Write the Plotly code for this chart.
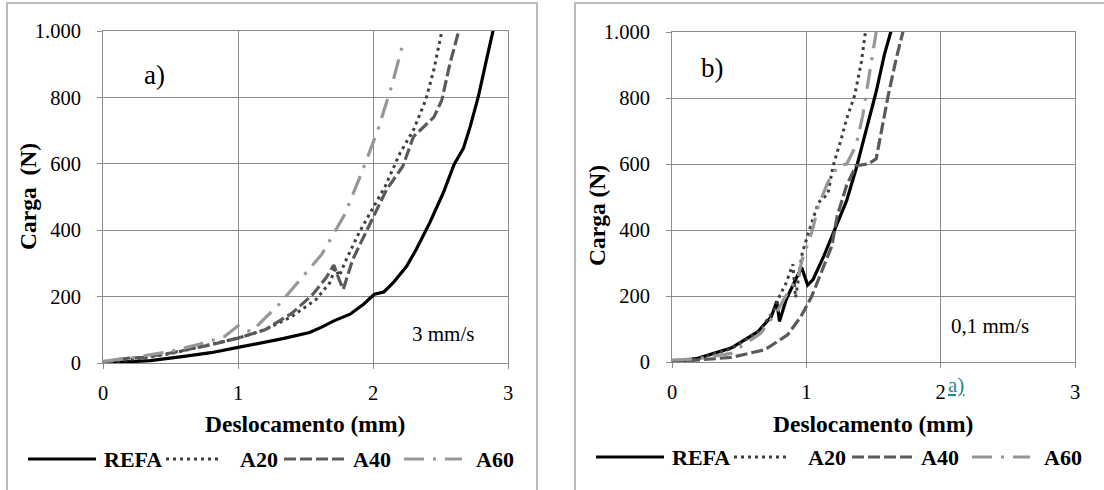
import plotly.graph_objects as go

# ---------------- data ----------------
# panel a) 3 mm/s
refa_a_x = [0, 0.2, 0.35, 0.6, 0.8, 1.0, 1.2, 1.34, 1.53, 1.62, 1.71, 1.83, 1.93, 2.01, 2.08, 2.15, 2.25, 2.32, 2.42, 2.52, 2.60, 2.67, 2.72, 2.78, 2.84, 2.89]
refa_a_y = [0, 3, 7, 20, 31, 47, 62, 74, 92, 108, 127, 147, 177, 207, 214, 242, 292, 342, 422, 512, 597, 647, 712, 802, 912, 1002]
a20_a_x = [0, 0.2, 0.5, 0.8, 1.0, 1.2, 1.4, 1.51, 1.58, 1.68, 1.72, 1.75, 1.8, 1.9, 1.95, 2.0, 2.09, 2.2, 2.3, 2.39, 2.45, 2.51]
a20_a_y = [0, 10, 28, 55, 75, 100, 140, 172, 192, 242, 285, 262, 310, 395, 432, 470, 532, 632, 702, 792, 882, 1000]
a40_a_x = [0, 0.1, 0.2, 0.3, 0.5, 0.8, 1.0, 1.2, 1.4, 1.55, 1.65, 1.71, 1.75, 1.78, 1.85, 1.98, 2.1, 2.22, 2.3, 2.45, 2.51, 2.57, 2.63, 2.65]
a40_a_y = [0, 10, 15, 17, 30, 55, 75, 100, 150, 205, 255, 295, 250, 222, 312, 422, 522, 592, 682, 740, 792, 902, 992, 1010]
a60_a_x = [0, 0.2, 0.5, 0.72, 0.9, 1.0, 1.05, 1.1, 1.2, 1.3, 1.4, 1.5, 1.62, 1.79, 1.92, 2.04, 2.14, 2.23]
a60_a_y = [5, 15, 35, 57, 80, 112, 100, 95, 135, 175, 222, 270, 327, 447, 577, 707, 837, 975]

# panel b) 0,1 mm/s
refa_b_x = [0, 0.19, 0.44, 0.64, 0.74, 0.78, 0.80, 0.85, 0.92, 0.965, 1.01, 1.05, 1.13, 1.21, 1.30, 1.37, 1.45, 1.52, 1.58, 1.63]
refa_b_y = [0, 11, 42, 92, 138, 184, 123, 189, 250, 286, 233, 250, 321, 402, 489, 585, 707, 819, 930, 1002]
a20_b_x = [0, 0.19, 0.44, 0.64, 0.75, 0.80, 0.85, 0.90, 0.92, 0.95, 0.97, 1.04, 1.09, 1.16, 1.20, 1.26, 1.30, 1.36, 1.41, 1.44]
a20_b_y = [0, 10, 40, 90, 150, 199, 240, 296, 195, 280, 331, 422, 483, 509, 595, 676, 737, 808, 910, 1000]
a40_b_x = [0, 0.19, 0.44, 0.69, 0.86, 0.96, 1.04, 1.11, 1.19, 1.23, 1.30, 1.37, 1.46, 1.52, 1.56, 1.61, 1.67, 1.72]
a40_b_y = [0, 6, 14, 37, 82, 138, 199, 270, 352, 443, 535, 595, 600, 616, 707, 809, 921, 1002]
a60_b_x = [0, 0.2, 0.44, 0.66, 0.79, 0.86, 0.94, 0.97, 1.04, 1.09, 1.16, 1.24, 1.30, 1.37, 1.42, 1.46, 1.50, 1.52]
a60_b_y = [6, 10, 26, 87, 158, 209, 260, 311, 392, 473, 545, 595, 600, 656, 747, 848, 940, 1000]

series_names = ["REFA", "A20", "A40", "A60"]
x_ticks = [0, 1, 2, 3]
x_tick_labels = ["0", "1", "2", "3"]
y_ticks = [0, 200, 400, 600, 800, 1000]
y_tick_labels = ["0", "200", "400", "600", "800", "1.000"]

# ---------------- styles ----------------
W, H = 1104, 490
FONT = "Liberation Serif"
GRID = "#8c8c8c"
styles = {
    "REFA": dict(color="#000000", width=3.2, dash="solid"),
    "A20": dict(color="#3f3f3f", width=3, dash="3px,4px"),
    "A40": dict(color="#5a5a5a", width=3.2, dash="12px,4px"),
    "A60": dict(color="#979797", width=3.2, dash="20px,9px,3px,9px"),
}

def px(x):
    return x / W

def py(y):
    return 1 - y / H

fig = go.Figure()
panel_a = [(refa_a_x, refa_a_y), (a20_a_x, a20_a_y), (a40_a_x, a40_a_y), (a60_a_x, a60_a_y)]
panel_b = [(refa_b_x, refa_b_y), (a20_b_x, a20_b_y), (a40_b_x, a40_b_y), (a60_b_x, a60_b_y)]
for name, (xs, ys) in zip(series_names, panel_a):
    fig.add_trace(go.Scatter(x=xs, y=ys, mode="lines", name=name, line=styles[name],
                             xaxis="x", yaxis="y", showlegend=False))
for name, (xs, ys) in zip(series_names, panel_b):
    fig.add_trace(go.Scatter(x=xs, y=ys, mode="lines", name=name, line=styles[name],
                             xaxis="x2", yaxis="y2", showlegend=False))

axis_common = dict(showgrid=True, gridcolor=GRID, gridwidth=1, showline=True, linecolor=GRID,
                   linewidth=1, mirror=True, ticks="outside", ticklen=5, tickcolor=GRID,
                   zeroline=False, automargin=False, tickfont=dict(family=FONT, size=20.5, color="#000"))
xa = dict(axis_common, range=[0, 3], tickvals=x_ticks, ticktext=x_tick_labels, ticklabelstandoff=6)
ya = dict(axis_common, range=[0, 1000], tickvals=y_ticks, ticktext=y_tick_labels, ticklabelstandoff=12)

# plot areas (pixel boxes)
a_box = (103, 508, 31, 363)
b_box = (672, 1075, 32, 362)

fig.update_layout(
    width=W, height=H, autosize=False,
    margin=dict(l=0, r=0, t=0, b=0, pad=0, autoexpand=False),
    font=dict(family=FONT, color="#000"),
    paper_bgcolor="white", plot_bgcolor="white",
    showlegend=False,
    xaxis=dict(xa, domain=[px(a_box[0]), px(a_box[1])], anchor="y"),
    yaxis=dict(ya, domain=[py(a_box[3]), py(a_box[2])], anchor="x"),
    xaxis2=dict(xa, domain=[px(b_box[0]), px(b_box[1])], anchor="y2"),
    yaxis2=dict(ya, domain=[py(b_box[3]), py(b_box[2])], anchor="x2"),
)

shapes = []
# outer panel frames
for x0, x1 in [(7, 537), (575, 1110)]:
    shapes.append(dict(type="rect", xref="paper", yref="paper", x0=px(x0), x1=px(x1), y0=py(500), y1=py(3),
                       line=dict(color="#a6a6a6", width=1.5), fillcolor="rgba(0,0,0,0)", layer="below"))

annotations = []
def text(x, y, s, size, bold=False, xanchor="center", color="#000", angle=0):
    annotations.append(dict(x=px(x), y=py(y), xref="paper", yref="paper", text=("<b>%s</b>" % s) if bold else s,
                            showarrow=False, xanchor=xanchor, yanchor="middle", textangle=angle,
                            font=dict(family=FONT, size=size, color=color)))

# legend rows (keys + labels)
legend_keys = [(28, 96, 102), (166, 218, 238), (284, 348, 351), (404, 462, 474)]
for dx, ly in [(0, 459), (568, 457)]:
    for name, (k0, k1, tx) in zip(series_names, legend_keys):
        st = styles[name]
        shapes.append(dict(type="line", xref="paper", yref="paper", x0=px(k0 + dx), x1=px(k1 + dx),
                           y0=py(ly), y1=py(ly), line=dict(color=st["color"], width=st["width"], dash=st["dash"])))
        text(tx + dx, ly, name, 22, bold=True, xanchor="left")

# axis titles
text(305, 424, "Deslocamento (mm)", 23.5, bold=True)
text(873, 424, "Deslocamento (mm)", 23.5, bold=True)
text(28, 197, "Carga  (N)", 23.5, bold=True, angle=-90)
text(597, 216, "Carga (N)", 23.5, bold=True, angle=-90)

# panel labels and notes
text(154, 75, "a)", 27)
text(443, 334, "3 mm/s", 21)
text(712, 68, "b)", 27)
text(990, 326, "0,1 mm/s", 21)
text(946, 385, "<u>a)</u>", 21, xanchor="left", color="#1f8a8c")

fig.update_layout(shapes=shapes, annotations=annotations)
fig.write_html("out.html", config={"displayModeBar": False, "staticPlot": True},
               post_script="document.body.style.margin='0';document.body.style.overflow='hidden';")
